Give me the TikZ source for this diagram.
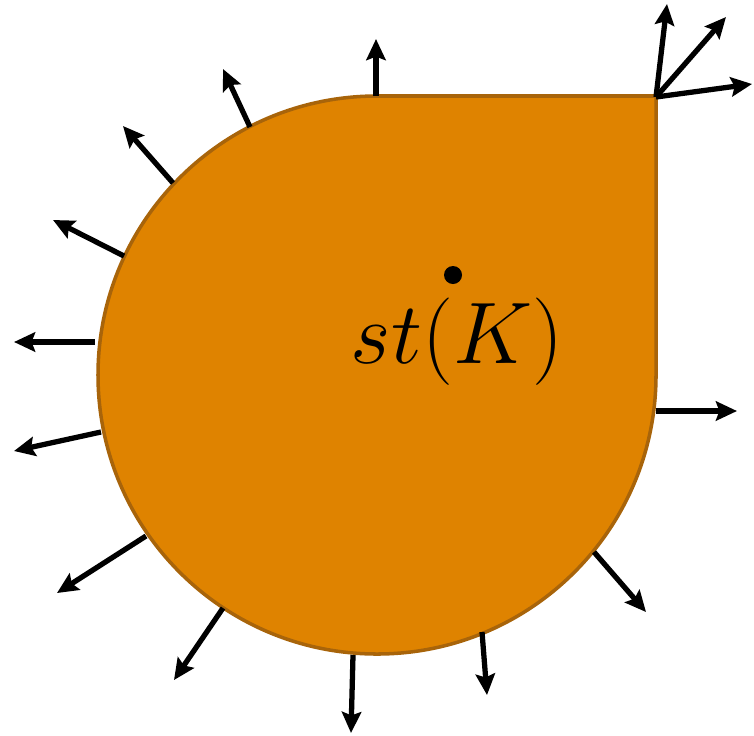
\documentclass[tikz,border=0pt]{standalone}
\usepackage{amsmath}
\usetikzlibrary{arrows.meta}

\definecolor{blobfill}{RGB}{223,131,0}
\definecolor{blobline}{RGB}{168,100,10}

\tikzset{
  normal/.style={line width=1.5pt, -{Stealth[length=6pt,width=5.5pt,inset=1pt]}},
}

\begin{document}
\begin{tikzpicture}

      \useasboundingbox (0,0) rectangle (7.54,7.35);

      % Body: disk with a square corner
      \filldraw[fill=blobfill, draw=blobline, line width=1pt]
        (3.76,6.39) -- (6.56,6.39) -- (6.56,3.60)
        arc[start angle=0, end angle=-270, radius=2.79] -- cycle;

      % Point and label
      \fill (4.53,4.60) circle (0.09);
      \node[anchor=base] (stk) at (4.57,3.72) {\fontsize{23}{26}\selectfont $st(K)$};

      % Normals along the boundary
      \draw[normal] (3.76,6.39) -- (3.76,6.96);
      \draw[normal] (2.50,6.08) -- (2.23,6.66);
      \draw[normal] (1.73,5.52) -- (1.23,6.09);
      \draw[normal] (1.24,4.79) -- (0.53,5.15);
      \draw[normal] (0.95,3.93) -- (0.14,3.93);
      \draw[normal] (1.01,3.03) -- (0.14,2.84);
      \draw[normal] (1.46,1.99) -- (0.57,1.42);
      \draw[normal] (2.23,1.27) -- (1.74,0.55);
      \draw[normal] (3.53,0.80) -- (3.51,0.02);
      \draw[normal] (4.82,1.03) -- (4.87,0.40);
      \draw[normal] (5.94,1.83) -- (6.46,1.23);
      \draw[normal] (6.56,3.24) -- (7.37,3.24);

      % Corner: a fan of normals
      \coordinate (corner) at (6.56,6.38);
      \foreach \tip in {(6.67,7.31), (7.26,7.18), (7.52,6.51)}
          \draw[normal] (corner) -- \tip;

\end{tikzpicture}
\end{document}
